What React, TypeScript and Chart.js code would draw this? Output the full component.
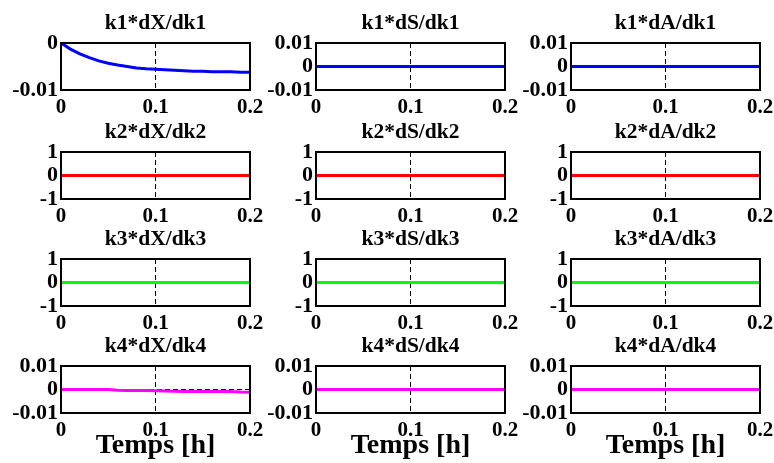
import React, { useEffect, useRef } from 'react';
import { Chart, registerables } from 'chart.js';

Chart.register(...registerables);

// ---- data ----
const time = [0, 0.01, 0.02, 0.03, 0.04, 0.05, 0.06, 0.07, 0.08, 0.09, 0.1, 0.11, 0.12, 0.13, 0.14, 0.15, 0.16, 0.17, 0.18, 0.19, 0.2];

const k1dX = [0, -0.0013, -0.0023, -0.0031, -0.0038, -0.0043, -0.0047, -0.005, -0.0053, -0.0055, -0.0056, -0.0057, -0.0058, -0.0059, -0.006, -0.006, -0.0061, -0.0061, -0.0061, -0.0062, -0.0062];
const k1dS = [0, 0, 0, 0, 0, 0, 0, 0, 0, 0, 0, 0, 0, 0, 0, 0, 0, 0, 0, 0, 0];
const k1dA = [0, 0, 0, 0, 0, 0, 0, 0, 0, 0, 0, 0, 0, 0, 0, 0, 0, 0, 0, 0, 0];
const k2dX = [0, 0, 0, 0, 0, 0, 0, 0, 0, 0, 0, 0, 0, 0, 0, 0, 0, 0, 0, 0, 0];
const k2dS = [0, 0, 0, 0, 0, 0, 0, 0, 0, 0, 0, 0, 0, 0, 0, 0, 0, 0, 0, 0, 0];
const k2dA = [0, 0, 0, 0, 0, 0, 0, 0, 0, 0, 0, 0, 0, 0, 0, 0, 0, 0, 0, 0, 0];
const k3dX = [0, 0, 0, 0, 0, 0, 0, 0, 0, 0, 0, 0, 0, 0, 0, 0, 0, 0, 0, 0, 0];
const k3dS = [0, 0, 0, 0, 0, 0, 0, 0, 0, 0, 0, 0, 0, 0, 0, 0, 0, 0, 0, 0, 0];
const k3dA = [0, 0, 0, 0, 0, 0, 0, 0, 0, 0, 0, 0, 0, 0, 0, 0, 0, 0, 0, 0, 0];
const k4dX = [0, 0, 0, 0, 0, 0, -0.0003, -0.0004, -0.0004, -0.0004, -0.0005, -0.0006, -0.0007, -0.0008, -0.0008, -0.0008, -0.0008, -0.0008, -0.0009, -0.0011, -0.0012];
const k4dS = [0, 0, 0, 0, 0, 0, 0, 0, 0, 0, 0, 0, 0, 0, 0, 0, 0, 0, 0, 0, 0];
const k4dA = [0, 0, 0, 0, 0, 0, 0, 0, 0, 0, 0, 0, 0, 0, 0, 0, 0, 0, 0, 0, 0];

const panelTitles = [
  ['k1*dX/dk1', 'k1*dS/dk1', 'k1*dA/dk1'],
  ['k2*dX/dk2', 'k2*dS/dk2', 'k2*dA/dk2'],
  ['k3*dX/dk3', 'k3*dS/dk3', 'k3*dA/dk3'],
  ['k4*dX/dk4', 'k4*dS/dk4', 'k4*dA/dk4'],
];
const panelSeries = [
  [k1dX, k1dS, k1dA],
  [k2dX, k2dS, k2dA],
  [k3dX, k3dS, k3dA],
  [k4dX, k4dS, k4dA],
];
const rowColors = ['#0000ff', '#ff0000', '#00ff00', '#ff00ff'];

const yTicksSmall = [-0.01, 0, 0.01];
const yTicksK1X = [-0.01, 0];
const yTicksUnit = [-1, 0, 1];
const panelYTicks = [
  [yTicksK1X, yTicksSmall, yTicksSmall],
  [yTicksUnit, yTicksUnit, yTicksUnit],
  [yTicksUnit, yTicksUnit, yTicksUnit],
  [yTicksSmall, yTicksSmall, yTicksSmall],
];
const xTicks = [0, 0.1, 0.2];
const xLabel = 'Temps [h]';

// ---- layout ----
const COL_LEFT = [61, 316, 571];
const ROW_TOP = [43, 152, 259, 366];
const BOX_W = 189;
const BOX_H = 47;
const SIDE = 61;
const TITLE_H = 40;
const XAX_H = 30;
const XAX_H_LAST = 50;
const FONT = "'Liberation Serif', 'Times New Roman', serif";

const framePlugin = {
  id: 'frame',
  afterDatasetsDraw(chart: any) {
    const { ctx, chartArea } = chart;
    ctx.save();
    ctx.strokeStyle = '#000';
    ctx.lineWidth = 2;
    ctx.setLineDash([]);
    ctx.strokeRect(chartArea.left, chartArea.top, chartArea.right - chartArea.left, chartArea.bottom - chartArea.top);
    ctx.restore();
  },
};

function Panel({ r, c }: { r: number; c: number }) {
  const ref = useRef<HTMLCanvasElement | null>(null);
  const last = r === 3;
  const w = SIDE + BOX_W + SIDE;
  const h = TITLE_H + BOX_H + (last ? XAX_H_LAST : XAX_H);
  const left = COL_LEFT[c] - SIDE;
  const top = ROW_TOP[r] - TITLE_H;

  useEffect(() => {
    if (!ref.current) return;
    const values = panelSeries[r][c];
    const yt = panelYTicks[r][c];
    const chart = new Chart(ref.current, {
      type: 'line',
      data: {
        datasets: [
          {
            data: time.map((t, i) => ({ x: t, y: values[i] })),
            borderColor: rowColors[r],
            borderWidth: 3,
            pointRadius: 0,
            fill: false,
            tension: 0,
          },
        ],
      },
      options: {
        animation: false,
        responsive: false,
        maintainAspectRatio: false,
        layout: { padding: 0 },
        plugins: {
          legend: { display: false },
          tooltip: { enabled: false },
          title: {
            display: true,
            text: panelTitles[r][c],
            color: '#000',
            font: { family: FONT, size: 21.5, weight: 'bold', lineHeight: '25px' },
            padding: { top: 8, bottom: 7 },
          },
        },
        scales: {
          x: {
            type: 'linear',
            position: 'bottom',
            min: xTicks[0],
            max: xTicks[xTicks.length - 1],
            afterBuildTicks: (s: any) => {
              s.ticks = xTicks.map((v) => ({ value: v }));
            },
            afterFit: (s: any) => {
              s.height = last ? XAX_H_LAST : XAX_H;
            },
            ticks: {
              color: '#000',
              padding: 5,
              autoSkip: false,
              maxRotation: 0,
              font: { family: FONT, size: 21, weight: 'bold', lineHeight: '25px' },
              callback: (v: any) => String(v),
            },
            grid: { display: true, drawTicks: false, color: '#000', lineWidth: 1 },
            border: { display: false, dash: [5, 3] },
            title: {
              display: last,
              text: xLabel,
              color: '#000',
              font: { family: FONT, size: 28, weight: 'bold', lineHeight: 1.2 },
              padding: { top: 0, bottom: 0 },
            },
          },
          y: {
            type: 'linear',
            position: 'left',
            min: yt[0],
            max: yt[yt.length - 1],
            afterBuildTicks: (s: any) => {
              s.ticks = yt.map((v) => ({ value: v }));
            },
            afterFit: (s: any) => {
              s.width = SIDE;
            },
            ticks: {
              color: '#000',
              padding: 3,
              autoSkip: false,
              font: { family: FONT, size: 22, weight: 'bold', lineHeight: 1.2 },
              callback: (v: any) => String(v),
            },
            grid: { display: true, drawTicks: false, color: '#000', lineWidth: 1 },
            border: { display: false, dash: [5, 3] },
          },
          yR: {
            type: 'linear',
            position: 'right',
            display: true,
            afterFit: (s: any) => {
              s.width = SIDE;
            },
            ticks: { display: false },
            grid: { display: false, drawTicks: false },
            border: { display: false },
          },
        },
      },
      plugins: [framePlugin],
    } as any);
    return () => chart.destroy();
  }, [r, c]);

  return (
    <canvas
      ref={ref}
      width={w}
      height={h}
      style={{ position: 'absolute', left, top, width: w, height: h }}
    />
  );
}

export default function App() {
  const panels = [];
  for (let r = 0; r < 4; r++) {
    for (let c = 0; c < 3; c++) {
      panels.push(<Panel key={`${r}-${c}`} r={r} c={c} />);
    }
  }
  return (
    <div style={{ position: 'absolute', left: 0, top: 0, width: 774, height: 463, background: '#fff', overflow: 'hidden' }}>
      {panels}
    </div>
  );
}
